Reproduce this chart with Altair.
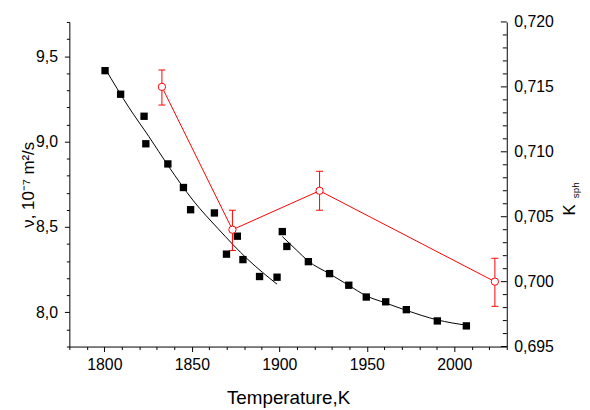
import altair as alt
import pandas as pd

# ---- black squares: kinematic viscosity (left axis) ----
T_nu = [1800.4, 1809.3, 1822.7, 1823.7, 1836.3, 1845.2, 1849.3, 1862.9, 1869.8, 1876.0,
        1879.2, 1888.7, 1898.7, 1901.7, 1904.3, 1916.6, 1928.7, 1939.7, 1949.7, 1960.8,
        1972.6, 1990.3, 2006.9]
nu = [9.415, 9.277, 9.148, 8.987, 8.869, 8.731, 8.601, 8.582, 8.341, 8.446,
      8.309, 8.210, 8.206, 8.473, 8.386, 8.297, 8.227, 8.159, 8.090, 8.062,
      8.016, 7.950, 7.921]

# ---- fitted curves ----
fit1_T = [1800.4, 1814.0, 1825.4, 1836.7, 1850.9, 1865.0, 1882.0, 1898.7]
fit1_nu = [9.428, 9.200, 9.030, 8.855, 8.653, 8.490, 8.310, 8.165]
fit2_T = [1901.7, 1910.0, 1916.6, 1928.7, 1939.7, 1949.7, 1960.8, 1972.6, 1990.3, 2006.9]
fit2_nu = [8.444, 8.363, 8.300, 8.226, 8.158, 8.097, 8.055, 8.012, 7.956, 7.925]

# ---- red circles: K_sph (right axis) ----
T_k = [1832.9, 1873.2, 1923.0, 2023.2]
K_sph = [0.7150, 0.7040, 0.7070, 0.7000]
K_lo = [0.7136, 0.7024, 0.7055, 0.6981]
K_hi = [0.7163, 0.7055, 0.7085, 0.7018]

# ---- tick values ----
x_ticks = list(range(1780, 2031, 10))
nu_ticks = [round(7.8 + 0.1 * i, 1) for i in range(20)]
K_major = [0.695, 0.700, 0.705, 0.710, 0.715, 0.720]
K_minor = [round(0.695 + 0.001 * i, 3) for i in range(26) if i % 5]

W, H = 442, 328
FONT = "Liberation Sans"

df_sq = pd.DataFrame({"T": T_nu, "nu": nu})
df_fit = pd.concat([
    pd.DataFrame({"T": fit1_T, "nu": fit1_nu, "seg": "a"}),
    pd.DataFrame({"T": fit2_T, "nu": fit2_nu, "seg": "b"}),
])
df_k = pd.DataFrame({"T": T_k, "K": K_sph, "lo": K_lo, "hi": K_hi})
df_kmaj = pd.DataFrame({"K": K_major})
df_kmin = pd.DataFrame({"K": K_minor})

x_axis = alt.Axis(
    values=x_ticks,
    labelExpr="datum.value % 50 === 0 ? format(datum.value, 'd') : ''",
    tickSize={"condition": {"test": "datum.value % 50 === 0", "value": 5}, "value": 3},
    labelPadding=5, labelOverlap=False, labelFlush=False,
    title="Temperature,K", titleFontSize=19, titleX=W / 2, titleY=58,
    titleBaseline="alphabetic", titleAlign="center",
)
X = alt.X("T:Q", scale=alt.Scale(domain=[1780, 2030], nice=False, zero=False), axis=x_axis)

left_axis = alt.Axis(
    values=nu_ticks,
    labelExpr="abs(round(datum.value*10)) % 5 === 0 ? replace(format(datum.value, '.1f'), '.', ',') : ''",
    tickSize={"condition": {"test": "abs(round(datum.value*10)) % 5 === 0", "value": 5}, "value": 3},
    labelPadding=7, labelOverlap=False, labelFlush=False,
    title="ν, 10⁻⁷ m²/s", titleFontSize=17, titleAngle=270, titleX=-36, titleY=H / 2,
    titleBaseline="alphabetic", titleAlign="center",
)
yL_scale = alt.Scale(domain=[7.8, 9.7], nice=False, zero=False)
YL = alt.Y("nu:Q", scale=yL_scale, axis=left_axis)

right_axis = alt.Axis(
    orient="right", values=K_major, ticks=False, tickSize=0, labelPadding=7,
    labelExpr="replace(format(datum.value, '.3f'), '.', ',')",
    labelOverlap=False, labelFlush=False, title=None,
)
yR_scale = alt.Scale(domain=[0.695, 0.720], nice=False, zero=False)
YR = alt.Y("K:Q", scale=yR_scale, axis=right_axis)
YR_lo = alt.Y("lo:Q", scale=yR_scale, axis=right_axis)
YR_hi = alt.Y("hi:Q", scale=yR_scale, axis=right_axis)

fit = alt.Chart(df_fit).mark_line(color="black", strokeWidth=1, interpolate="monotone").encode(
    x=X, y=YL, detail="seg:N")
sq = alt.Chart(df_sq).mark_square(size=55, color="black", opacity=1).encode(x=X, y=YL)
left = alt.layer(fit, sq)

RED = "#ff0000"
rline = alt.Chart(df_k).mark_line(color=RED, strokeWidth=1).encode(x=X, y=YR)
ebar = alt.Chart(df_k).mark_rule(color=RED, strokeWidth=1).encode(x=X, y=YR_lo, y2="hi")
cap_lo = alt.Chart(df_k).mark_rule(color=RED, strokeWidth=1, xOffset=-3.5, x2Offset=3.5).encode(
    x=X, x2=alt.X2("T"), y=YR_lo)
cap_hi = alt.Chart(df_k).mark_rule(color=RED, strokeWidth=1, xOffset=-3.5, x2Offset=3.5).encode(
    x=X, x2=alt.X2("T"), y=YR_hi)
pts = alt.Chart(df_k).mark_point(shape="circle", filled=True, fill="white", stroke=RED,
                                 strokeWidth=1, size=55, opacity=1).encode(x=X, y=YR)
tk_maj = alt.Chart(df_kmaj).mark_rule(color="black", strokeWidth=1).encode(
    x=alt.value(W - 6), x2=alt.value(W), y=YR)
tk_min = alt.Chart(df_kmin).mark_rule(color="black", strokeWidth=1).encode(
    x=alt.value(W - 4), x2=alt.value(W), y=YR)
k_txt = alt.Chart(pd.DataFrame({"t": ["K"]})).mark_text(
    font=FONT, fontSize=17, angle=270, align="center", baseline="alphabetic", color="black"
).encode(x=alt.value(W + 69), y=alt.value(190), text="t:N")
s_txt = alt.Chart(pd.DataFrame({"t": ["sph"]})).mark_text(
    font=FONT, fontSize=10, angle=270, align="center", baseline="alphabetic", color="black"
).encode(x=alt.value(W + 73), y=alt.value(170), text="t:N")
right = alt.layer(rline, ebar, cap_lo, cap_hi, pts, tk_maj, tk_min, k_txt, s_txt)

chart = alt.layer(left, right).resolve_scale(y="independent").properties(
    width=W, height=H,
    padding={"left": 62, "top": 12, "right": 76, "bottom": 62},
    autosize=alt.AutoSizeParams(type="none"),
).configure_view(stroke=None).configure_axis(
    grid=False, labelFont=FONT, titleFont=FONT, labelFontSize=16,
    labelColor="black", titleColor="black", domainColor="black", tickColor="black",
    titleFontWeight="normal", domainWidth=1, tickWidth=1,
)

chart.save("out.html", embed_options={"renderer": "svg", "actions": False})
